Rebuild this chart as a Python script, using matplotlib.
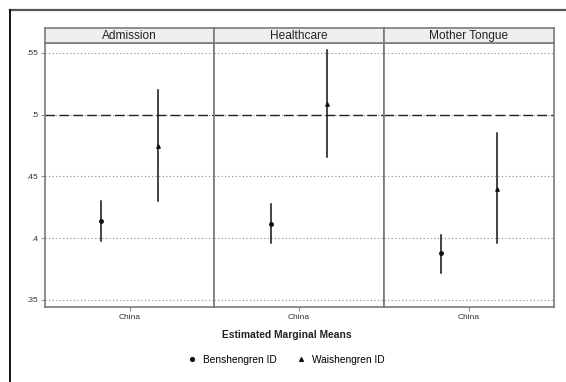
import matplotlib
matplotlib.use("Agg")
import matplotlib.pyplot as plt
from matplotlib.lines import Line2D

plt.rcParams['font.family'] = ['Liberation Sans', 'DejaVu Sans']

panels = ["Admission", "Healthcare", "Mother Tongue"]
category = ["China"]
groups = ["Benshengren ID", "Waishengren ID"]
markers = ["o", "^"]
estimates = {
    "Benshengren ID": [0.414, 0.4115, 0.388],
    "Waishengren ID": [0.4746, 0.509, 0.4402],
}
ci_low = {
    "Benshengren ID": [0.398, 0.396, 0.372],
    "Waishengren ID": [0.430, 0.466, 0.396],
}
ci_high = {
    "Benshengren ID": [0.430, 0.428, 0.4027],
    "Waishengren ID": [0.520, 0.552, 0.4855],
}
yticks = [0.35, 0.4, 0.45, 0.5, 0.55]
ytick_labels = [".35", ".4", ".45", ".5", ".55"]
offsets = [-1/6, 1/6]

W, H = 566, 382
fig = plt.figure(figsize=(W/100, H/100), dpi=100)

lefts = [45, 214, 384]
rights = [214, 384, 554]
top, bottom = 43, 307
strip_top = 28
edge = "#7a7a7a"

for i, name in enumerate(panels):
    l, r = lefts[i], rights[i]
    ax = fig.add_axes([l/W, 1-bottom/H, (r-l)/W, (bottom-top)/H])
    ax.set_xlim(0.5, 1.5)
    ax.set_ylim(0.3443, 0.558)
    for y in yticks:
        ax.axhline(y, color="#8a8a8a", lw=0.8, ls=(0, (1, 2.2)), zorder=1)
    ax.axhline(0.5, color="#222222", lw=1.0, ls=(0, (7, 3)), zorder=2)
    for g, grp in enumerate(groups):
        x = 1 + offsets[g]
        ax.plot([x, x], [ci_low[grp][i], ci_high[grp][i]], color="#111111", lw=1.1, zorder=3)
        ax.plot([x], [estimates[grp][i]], marker=markers[g], color="#111111",
                ms=2.5, ls="none", zorder=4)
    ax.set_xticks([1])
    ax.set_xticklabels(category, fontsize=6, color="#333333")
    ax.tick_params(axis="x", length=3, width=0.6, color="#777777", pad=2)
    ax.set_yticks(yticks)
    if i == 0:
        ax.set_yticklabels(ytick_labels, fontsize=6, color="#333333")
        ax.tick_params(axis="y", length=3, width=0.6, color="#777777", pad=2)
    else:
        ax.tick_params(axis="y", length=0, labelleft=False)
    for s in ax.spines.values():
        s.set_color(edge)
        s.set_linewidth(1.2)
    sax = fig.add_axes([l/W, 1-top/H, (r-l)/W, (top-strip_top)/H])
    sax.set_xticks([]); sax.set_yticks([])
    sax.set_facecolor("#efefef")
    for s in sax.spines.values():
        s.set_color(edge)
        s.set_linewidth(1.2)
    sax.text(0.5, 0.45, name, ha="center", va="center", fontsize=8.6,
             color="#222222", transform=sax.transAxes)

fig.text(287/W, 1-335/H, "Estimated Marginal Means", ha="center", va="center",
         fontsize=7.4, fontweight="bold", color="#222222")

handles = [Line2D([], [], marker=m, color="#111111", ls="none", ms=2.7) for m in markers]
fig.legend(handles, groups, loc="center", bbox_to_anchor=(286/W, 1-360/H), ncol=2,
           frameon=False, fontsize=7.3, handletextpad=0.6, columnspacing=1.9,
           handlelength=1.0)

fig.add_artist(Line2D([10/W, 1], [1-10/H, 1-10/H], color="#555555", lw=1.6,
                      transform=fig.transFigure))
fig.add_artist(Line2D([10/W, 10/W], [0, 1-10/H], color="#111111", lw=1.4,
                      transform=fig.transFigure))

fig.savefig("out.png", dpi=100)
